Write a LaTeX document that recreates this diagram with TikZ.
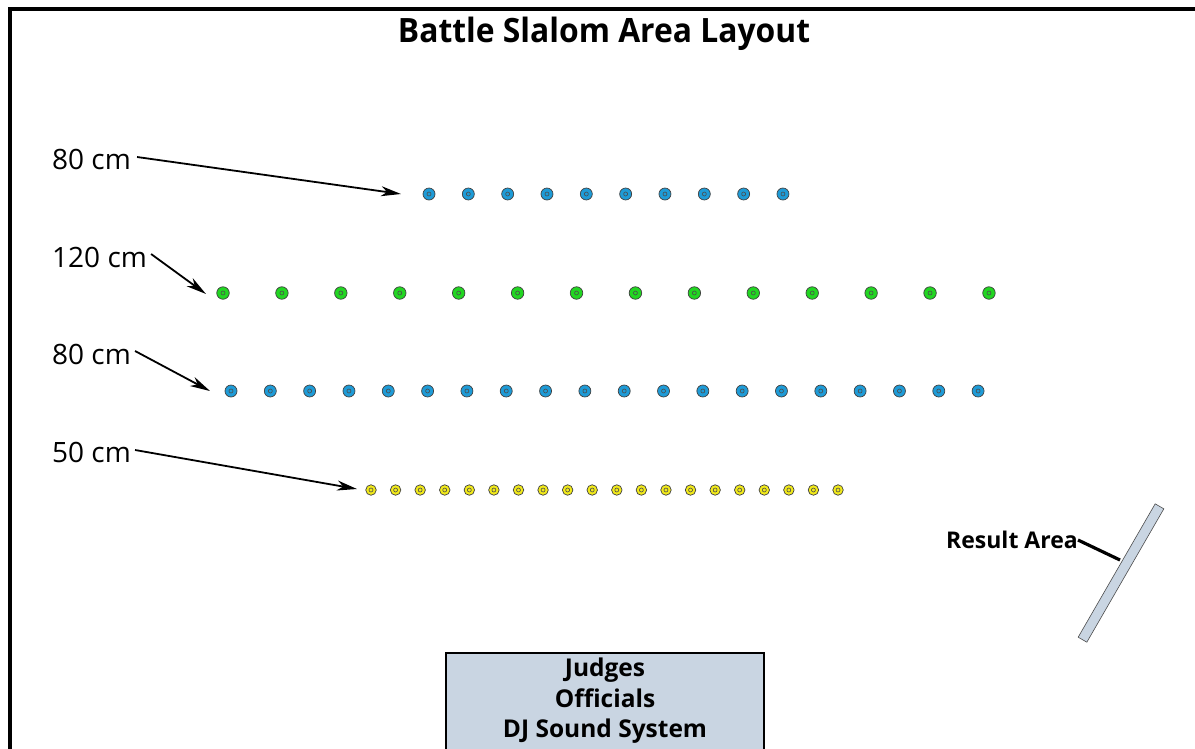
\documentclass[tikz,border=0pt]{standalone}
\usepackage{fontspec}
\setmainfont{Open Sans}
\newfontfamily\titlefont[FakeStretch=0.95]{Open Sans}
\usetikzlibrary{arrows.meta}
\definecolor{coneblue}{HTML}{1E9BD7}
\definecolor{conegreen}{HTML}{22D622}
\definecolor{coneyellow}{HTML}{F2EA1A}
\definecolor{boxfill}{HTML}{C9D5E2}
\tikzset{
  cone/.style={circle, draw=black!75, line width=0.7pt, inner sep=0pt, minimum size=#1},
  dotc/.style={circle, draw=black!70, line width=0.6pt, inner sep=0pt, minimum size=4pt},
  lbl/.style={font=\fontsize{28}{30}\selectfont, anchor=west, inner sep=0pt},
  ptr/.style={-{Stealth[length=20pt,width=10pt,inset=6pt]}, line width=1.8pt},
}
\begin{document}
\begin{tikzpicture}[x=1pt,y=-1pt]
\useasboundingbox (0,0) rectangle (1195,748);
\fill[white] (0,0) rectangle (1195,748);
% frame
\draw[line width=4pt] (10,760) -- (10,9) -- (1200,9);
% title
\node[font=\titlefont\bfseries\fontsize{33.5}{36}\selectfont, inner sep=0pt] (title) at (604,34) {Battle Slalom Area Layout};
% row 1
\foreach \i in {0,...,9} {
  \node[cone=12pt, fill=coneblue] (a\i) at ({429+\i*39.33},194) {};
  \node[dotc] at (a\i) {};
}
% row 2
\foreach \i in {0,...,13} {
  \node[cone=12.5pt, fill=conegreen] (b\i) at ({223+\i*58.92},293) {};
  \node[dotc] at (b\i) {};
}
% row 3
\foreach \i in {0,...,19} {
  \node[cone=12pt, fill=coneblue] (c\i) at ({231+\i*39.32},391) {};
  \node[dotc] at (c\i) {};
}
% row 4
\foreach \i in {0,...,19} {
  \node[cone=10.5pt, fill=coneyellow] (d\i) at ({371+\i*24.58},490) {};
  \node[dotc] at (d\i) {};
}
% labels
\node[lbl] (l1) at (52,159) {80 cm};
\node[lbl] (l2) at (52,257) {120 cm};
\node[lbl] (l3) at (52,354) {80 cm};
\node[lbl] (l4) at (52,452) {50 cm};
\coordinate (t1) at (401,194);
\coordinate (t2) at (206,294);
\coordinate (t3) at (210,391);
\coordinate (t4) at (357,489);
\draw[ptr] (l1.east) ++(6pt,2pt) -- (t1);
\draw[ptr] (l2.east) ++(4pt,3pt) -- (t2);
\draw[ptr] (l3.east) ++(4pt,3pt) -- (t3);
\draw[ptr] (l4.east) ++(4pt,2pt) -- (t4);
% result area
\node[draw=black!70, fill=boxfill, line width=0.6pt, minimum width=154pt, minimum height=10pt, inner sep=0pt, rotate=60] (res) at (1121,573) {};
\node[font=\bfseries\fontsize{23}{25}\selectfont, anchor=east, inner sep=0pt] (rl) at (1078,540) {Result Area};
\draw[line width=3.2pt] (rl.east) -- (1120,560);
% judges box
\draw[fill=boxfill, line width=2pt] (446,780) -- (446,653) -- (764,653) -- (764,780);
\node[font=\bfseries\fontsize{24.5}{30.5}\selectfont, align=center, inner sep=0pt] (jb) at (605,701) {Judges\\Officials\\DJ Sound System};
\end{tikzpicture}
\end{document}
